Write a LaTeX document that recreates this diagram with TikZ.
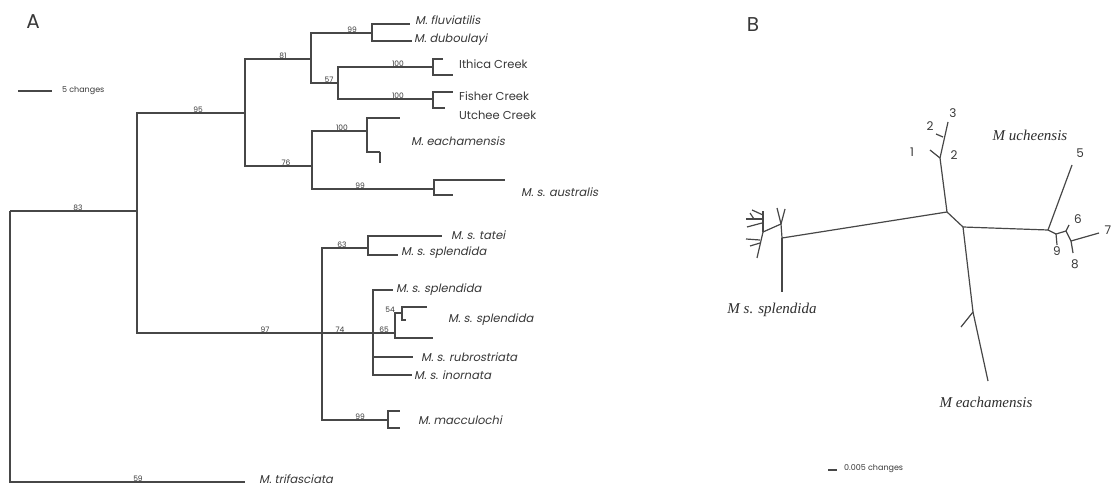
\documentclass[tikz,border=0pt]{standalone}
\usepackage{fontspec}
\usepackage{tikz}
\usetikzlibrary{positioning, calc}
\setmainfont{Liberation Serif}
\newfontfamily\geofont{Poppins}
\newfontfamily\geoslant[FakeSlant=0.2]{Poppins}

\begin{document}
\begin{tikzpicture}[
    x=1pt, y=-1pt,
    br/.style={draw=black!72, line width=1.2pt},
    tip/.style={anchor=west, inner sep=1pt, text=black!78, font=\geoslant\fontsize{11.5}{13}\selectfont},
    bs/.style={anchor=south, inner sep=0.5pt, text=black!78, font=\geofont\fontsize{7.5}{9}\selectfont},
    num/.style={inner sep=0pt, text=black!78, font=\geofont\fontsize{12}{14}\selectfont},
    sp/.style={inner sep=1pt, text=black!82, font=\itshape\fontsize{15}{17}\selectfont},
    panel/.style={inner sep=0pt, text=black!78, font=\geofont\fontsize{20}{22}\selectfont}
  ]
  \useasboundingbox (0,0) rectangle (1115,486);

  % panel A: tree
  \coordinate (R) at (10,211);
  \coordinate (n83) at (137,211);
  \coordinate (n95) at (245,113);
  \coordinate (n97) at (322,333);
  \coordinate (n81) at (311,59);
  \coordinate (n76) at (312,166);
  \coordinate (n99a) at (372,33);
  \coordinate (n57) at (338,83);
  \coordinate (n100a) at (433,67);
  \coordinate (n100b) at (433,99);
  \coordinate (n100c) at (367,131);
  \coordinate (n99b) at (434,189);
  \coordinate (n63) at (368,248);
  \coordinate (n74) at (373,333);
  \coordinate (n65) at (395,333);
  \coordinate (n54) at (402,313);
  \coordinate (n99c) at (388,420);

  \coordinate (flu) at (410,24);
  \coordinate (dub) at (412,41);
  \coordinate (ith1) at (443,59);
  \coordinate (ith2) at (453,75);
  \coordinate (fis) at (453,92);
  \coordinate (utc) at (445,108);
  \coordinate (eac1) at (400,118);
  \coordinate (eac2) at (380,152);
  \coordinate (eac3) at (380,163);
  \coordinate (aus1) at (505,180);
  \coordinate (aus2) at (453,195);
  \coordinate (tat) at (442,236);
  \coordinate (spla) at (398,255);
  \coordinate (splb) at (393,290);
  \coordinate (splc) at (427,307);
  \coordinate (spld) at (406,320);
  \coordinate (sple) at (433,338);
  \coordinate (rub) at (413,357);
  \coordinate (ino) at (412,375);
  \coordinate (mac1) at (400,411);
  \coordinate (mac2) at (400,428);
  \coordinate (tri) at (245,482);

  \draw[br] (R) |- (n83);
  \draw[br] (R) |- (tri);
  \draw[br] (n83) |- (n95);
  \draw[br] (n83) |- (n97);
  \draw[br] (n95) |- (n81);
  \draw[br] (n95) |- (n76);
  \draw[br] (n81) |- (n99a);
  \draw[br] (n81) |- (n57);
  \draw[br] (n99a) |- (flu);
  \draw[br] (n99a) |- (dub);
  \draw[br] (n57) |- (n100a);
  \draw[br] (n57) |- (n100b);
  \draw[br] (n100a) |- (ith1);
  \draw[br] (n100a) |- (ith2);
  \draw[br] (n100b) |- (fis);
  \draw[br] (n100b) |- (utc);
  \draw[br] (n76) |- (n100c);
  \draw[br] (n76) |- (n99b);
  \draw[br] (n100c) |- (eac1);
  \draw[br] (n100c) |- (eac2);
  \draw[br] (eac2) -- (eac3);
  \draw[br] (n99b) |- (aus1);
  \draw[br] (n99b) |- (aus2);
  \draw[br] (n97) |- (n63);
  \draw[br] (n97) |- (n74);
  \draw[br] (n97) |- (n99c);
  \draw[br] (n63) |- (tat);
  \draw[br] (n63) |- (spla);
  \draw[br] (n74) |- (splb);
  \draw[br] (n74) -- (n65);
  \draw[br] (n74) |- (rub);
  \draw[br] (n74) |- (ino);
  \draw[br] (n65) |- (n54);
  \draw[br] (n65) |- (sple);
  \draw[br] (n54) |- (splc);
  \draw[br] (n54) |- (spld);
  \draw[br] (n99c) |- (mac1);
  \draw[br] (n99c) |- (mac2);

  % bootstrap values
  \node[bs] at (78,211) {83};
  \node[bs] at (198,113) {95};
  \node[bs] at (138,482) {59};
  \node[bs] at (265,333) {97};
  \node[bs] at (283,59) {81};
  \node[bs] at (286,166) {76};
  \node[bs] at (352,33) {99};
  \node[bs] at (329,83) {57};
  \node[bs] at (398,67) {100};
  \node[bs] at (398,99) {100};
  \node[bs] at (342,131) {100};
  \node[bs] at (360,189) {99};
  \node[bs] at (342,248) {63};
  \node[bs] at (340,333) {74};
  \node[bs] at (384,333) {65};
  \node[bs] at (390,313) {54};
  \node[bs] at (360,420) {99};

  % taxa
  \node[tip] (tflu) at (414,20) {M. fluviatilis};
  \node[tip] (tdub) at (413,40) {M. duboulayi};
  \node[tip, font=\geofont\fontsize{11.5}{13}\selectfont] (tith) at (458,64) {Ithica Creek};
  \node[tip, font=\geofont\fontsize{11.5}{13}\selectfont] (tfis) at (458,96) {Fisher Creek};
  \node[tip, font=\geofont\fontsize{11.5}{13}\selectfont] (tutc) at (458,115) {Utchee Creek};
  \node[tip] (teac) at (410,141) {M. eachamensis};
  \node[tip] (taus) at (520,192) {M. s. australis};
  \node[tip] (ttat) at (450,235) {M. s. tatei};
  \node[tip] (tspa) at (400,253) {M. s. splendida};
  \node[tip] (tspb) at (395,290) {M. s. splendida};
  \node[tip] (tspc) at (447,320) {M. s. splendida};
  \node[tip] (trub) at (420,357) {M. s. rubrostriata};
  \node[tip] (tino) at (413,375) {M. s. inornata};
  \node[tip] (tmac) at (417,420) {M. macculochi};
  \node[tip] (ttri) at (258,479) {M. trifasciata};

  % scale bar A
  \coordinate (sa1) at (18,91);
  \coordinate (sa2) at (52,91);
  \draw[br] (sa1) -- (sa2);
  \node[anchor=west, inner sep=0pt, text=black!78, font=\geofont\fontsize{8}{9}\selectfont] (sca) at (62,91) {5 changes};
  \node[panel] (pa) at (33,22) {A};

  % panel B: unrooted tree
  \coordinate (L1) at (782,238);
  \coordinate (L2) at (781,224);
  \coordinate (L3) at (763,232);
  \coordinate (J1) at (947,212);
  \coordinate (J2) at (963,227);
  \coordinate (R1) at (1048,230);
  \coordinate (R2) at (1056,234);
  \coordinate (R3) at (1066,231);
  \coordinate (R4) at (1071,241);
  \coordinate (U1) at (940,158);
  \coordinate (E1) at (973,312);

  \draw[br] (L1) -- (J1);
  \draw[br] (J1) -- (J2);
  \draw[br] (J2) -- (R1);
  \draw[br] (L1) -- (782,292);
  \draw[br] (L1) -- (L2);
  \draw[br] (L2) -- (777,208);
  \draw[br] (L2) -- (785,209);
  \draw[br] (L2) -- (L3);
  \draw[br] (L3) -- (763,211);
  \draw[br] (L3) -- (757,258);
  \draw[br] (763,215) -- (752,210);
  \draw[br] (762,219) -- (746,219);
  \draw[br] (762,223) -- (747,227);
  \draw[br] (754,219) -- (750,213);
  \draw[br] (760,240) -- (746,239);
  \draw[br] (760,243) -- (750,246);
  \draw[br] (J1) -- (U1);
  \draw[br] (U1) -- (930,150);
  \draw[br] (U1) -- (948,122);
  \draw[br] (943,137) -- (936,134);
  \draw[br] (R1) -- (1072,165);
  \draw[br] (R1) -- (R2);
  \draw[br] (R2) -- (1057,245);
  \draw[br] (R2) -- (R3);
  \draw[br] (R3) -- (1069,225);
  \draw[br] (R3) -- (R4);
  \draw[br] (R4) -- (1099,233);
  \draw[br] (R4) -- (1073,253);
  \draw[br] (J2) -- (E1);
  \draw[br] (E1) -- (961,327);
  \draw[br] (E1) -- (988,381);

  \node[num] at (912,152) {1};
  \node[num] at (930,126) {2};
  \node[num] at (953,113) {3};
  \node[num] at (954,155) {2};
  \node[num] at (1080,153) {5};
  \node[num] at (1078,219) {6};
  \node[num] at (1108,230) {7};
  \node[num] at (1057,251) {9};
  \node[num] at (1075,264) {8};

  \node[sp] (uch) at (1030,135) {M ucheensis};
  \node[sp] (ssp) at (772,310) {M s. splendida};
  \node[sp] (bea) at (986,402) {M eachamensis};

  % scale bar B
  \coordinate (sb1) at (828,470);
  \coordinate (sb2) at (837,470);
  \draw[br] (sb1) -- (sb2);
  \node[anchor=west, inner sep=0pt, text=black!78, font=\geofont\fontsize{8}{9}\selectfont] (scb) at (844,469) {0.005 changes};
  \node[panel] (pb) at (753,25) {B};
\end{tikzpicture}
\end{document}
